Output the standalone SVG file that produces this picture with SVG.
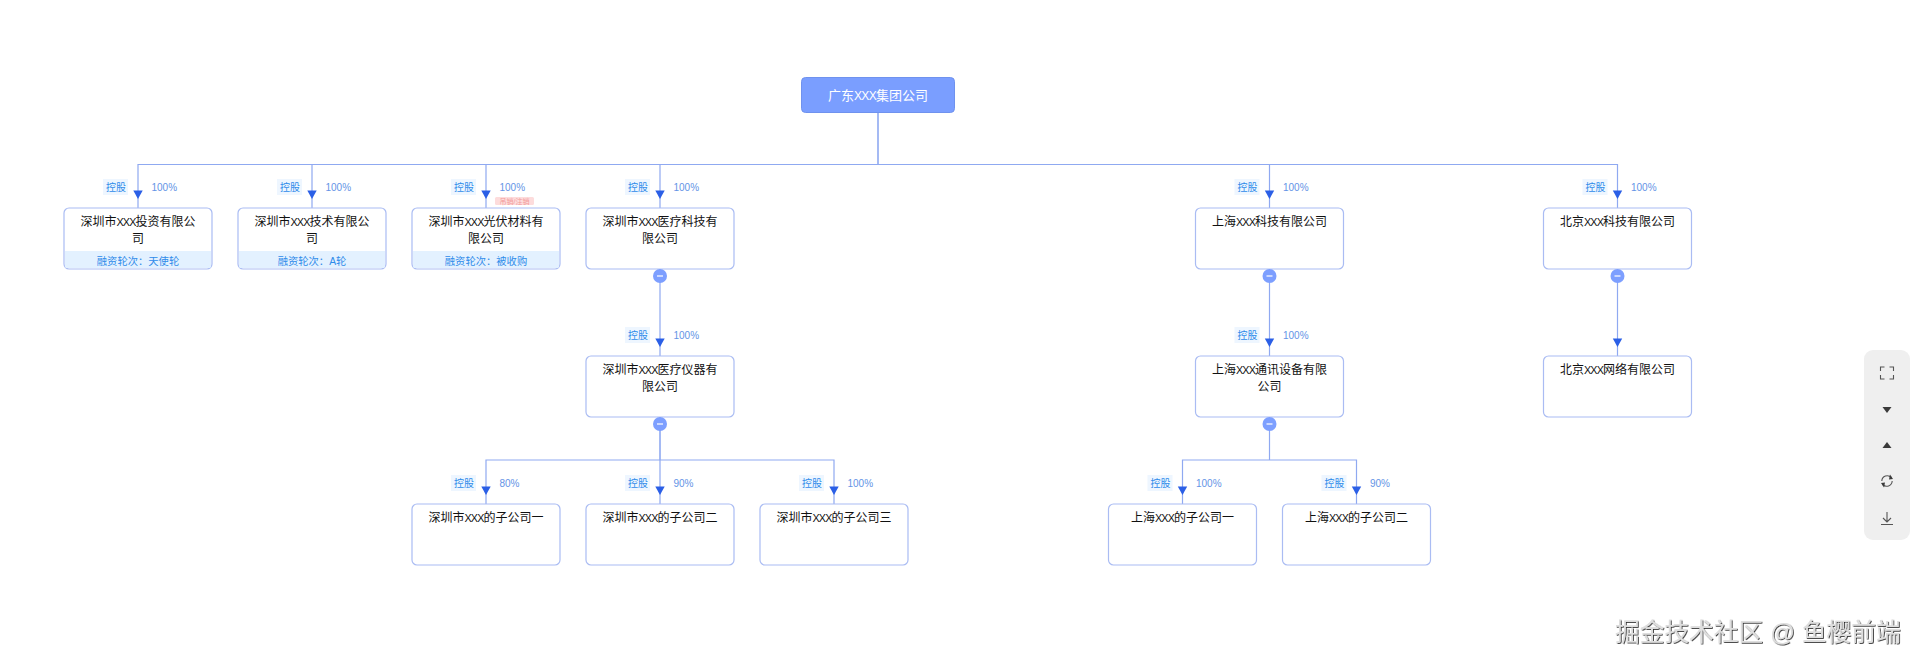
<svg xmlns="http://www.w3.org/2000/svg" width="1920" height="665" viewBox="0 0 1920 665">
<style>
text{font-family:"Liberation Sans","Noto Sans CJK SC",sans-serif}
.box{fill:#fff;stroke:#aabcf3;stroke-width:1.2}
.t{font-size:12px;fill:#111;text-anchor:middle}
.x{font-size:10.800px;letter-spacing:-0.900px}
.root{fill:#7a9eff;stroke:#6f92ee;stroke-width:1}
.rt{font-size:13px;fill:#fff;text-anchor:middle}
.rx{font-size:12px;letter-spacing:-0.700px}
.band{fill:#e3f1ff}
.bt{font-size:10.300px;fill:#2f8bea;text-anchor:middle}
.ln{fill:none;stroke:#8fa9f1;stroke-width:1.2}
.ln2{fill:none;stroke:#8fa9f1;stroke-width:1.6}
.lab{fill:#eef6ff}
.lt{font-size:10px;fill:#2f8bea;text-anchor:middle}
.pt{font-size:10px;fill:#6494e6}
.arr{fill:#2b5fe6}
.dot{fill:#7d9fff}
.minus{stroke:#fff;stroke-width:1.2}
.ic{fill:#3a3a3a}
.ics{fill:none;stroke:#555;stroke-width:1.1}
.wm{font-size:24.700px;fill:#dedede;filter:url(#sh)}
</style>
<defs>
<polygon id="a" class="arr" points="-4.700,-7.500 4.700,-7.500 0,1"/>
<clipPath id="c1"><rect x="64" y="208" width="148" height="61" rx="5"/></clipPath>
<clipPath id="c2"><rect x="238" y="208" width="148" height="61" rx="5"/></clipPath>
<clipPath id="c3"><rect x="412" y="208" width="148" height="61" rx="5"/></clipPath>
<filter id="sh" x="-5%" y="-20%" width="110%" height="140%"><feDropShadow dx="0.8" dy="0.8" stdDeviation="0.5" flood-color="#222"/></filter>
</defs>
<rect width="1920" height="665" fill="#fff"/>
<g id="connectors">
<path class="ln2" d="M878 113V164.500"/>
<path class="ln" d="M138 208V164.500H1617.500V198M312 164.500V208M486 164.500V208M660 164.500V208M1269.500 164.500V208M1617.500 198V208"/>
<path class="ln" d="M660 269V356M1269.500 269V356M1617.500 269V356"/>
<path class="ln2" d="M660 417V460"/>
<path class="ln" d="M486 504V460H834V504M660 460V504"/>
<path class="ln" d="M1269.500 417V460"/>
<path class="ln" d="M1182.500 504V460H1356.500V504"/>
<use href="#a" x="138" y="198"/><use href="#a" x="312" y="198"/><use href="#a" x="486" y="198"/><use href="#a" x="660" y="198"/><use href="#a" x="1269.500" y="198"/><use href="#a" x="1617.500" y="198"/>
<use href="#a" x="660" y="346"/><use href="#a" x="1269.500" y="346"/><use href="#a" x="1617.500" y="346"/>
<use href="#a" x="486" y="494"/><use href="#a" x="660" y="494"/><use href="#a" x="834" y="494"/><use href="#a" x="1182.500" y="494"/><use href="#a" x="1356.500" y="494"/>
<g id="edge-labels">
<rect class="lab" x="103" y="179" width="25" height="16"/><text class="lt" x="116" y="190.500">控股</text><text class="pt" x="151.500" y="190.500">100%</text>
<rect class="lab" x="277" y="179" width="25" height="16"/><text class="lt" x="290" y="190.500">控股</text><text class="pt" x="325.500" y="190.500">100%</text>
<rect class="lab" x="451" y="179" width="25" height="16"/><text class="lt" x="464" y="190.500">控股</text><text class="pt" x="499.500" y="190.500">100%</text>
<rect class="lab" x="625" y="179" width="25" height="16"/><text class="lt" x="638" y="190.500">控股</text><text class="pt" x="673.500" y="190.500">100%</text>
<rect class="lab" x="1234.500" y="179" width="25" height="16"/><text class="lt" x="1247.500" y="190.500">控股</text><text class="pt" x="1283" y="190.500">100%</text>
<rect class="lab" x="1582.500" y="179" width="25" height="16"/><text class="lt" x="1595.500" y="190.500">控股</text><text class="pt" x="1631" y="190.500">100%</text>
<rect class="lab" x="625" y="327" width="25" height="16"/><text class="lt" x="638" y="338.500">控股</text><text class="pt" x="673.500" y="338.500">100%</text>
<rect class="lab" x="1234.500" y="327" width="25" height="16"/><text class="lt" x="1247.500" y="338.500">控股</text><text class="pt" x="1283" y="338.500">100%</text>
<rect class="lab" x="451" y="475" width="25" height="16"/><text class="lt" x="464" y="486.500">控股</text><text class="pt" x="499.500" y="486.500">80%</text>
<rect class="lab" x="625" y="475" width="25" height="16"/><text class="lt" x="638" y="486.500">控股</text><text class="pt" x="673.500" y="486.500">90%</text>
<rect class="lab" x="799" y="475" width="25" height="16"/><text class="lt" x="812" y="486.500">控股</text><text class="pt" x="847.500" y="486.500">100%</text>
<rect class="lab" x="1147.500" y="475" width="25" height="16"/><text class="lt" x="1160.500" y="486.500">控股</text><text class="pt" x="1196" y="486.500">100%</text>
<rect class="lab" x="1321.500" y="475" width="25" height="16"/><text class="lt" x="1334.500" y="486.500">控股</text><text class="pt" x="1370" y="486.500">90%</text>
</g>
</g>
<g id="root"><rect class="root" x="801.500" y="77.500" width="153" height="35" rx="4"/><text class="rt" x="878" y="99.500">广东<tspan class="rx">XXX</tspan>集团公司</text></g>
<g id="n1"><rect class="box" x="64" y="208" width="148" height="61" rx="5"/><rect class="band" x="65" y="251" width="146" height="17" clip-path="url(#c1)"/><text class="t" x="138" y="226">深圳市<tspan class="x">XXX</tspan>投资有限公</text><text class="t" x="138" y="243">司</text><text class="bt" x="138" y="265">融资轮次：天使轮</text></g>
<g id="n2"><rect class="box" x="238" y="208" width="148" height="61" rx="5"/><rect class="band" x="239" y="251" width="146" height="17" clip-path="url(#c2)"/><text class="t" x="312" y="226">深圳市<tspan class="x">XXX</tspan>技术有限公</text><text class="t" x="312" y="243">司</text><text class="bt" x="312" y="265">融资轮次：A轮</text></g>
<g id="n3"><rect class="box" x="412" y="208" width="148" height="61" rx="5"/><rect class="band" x="413" y="251" width="146" height="17" clip-path="url(#c3)"/><text class="t" x="486" y="226">深圳市<tspan class="x">XXX</tspan>光伏材料有</text><text class="t" x="486" y="243">限公司</text><text class="bt" x="486" y="265">融资轮次：被收购</text><rect x="495" y="197" width="39" height="8" rx="1.500" fill="#fddcdc"/><text x="514.500" y="203.500" font-size="7" fill="#f29a9a" text-anchor="middle">吊销/注销</text></g>
<g id="n4"><rect class="box" x="586" y="208" width="148" height="61" rx="5"/><text class="t" x="660" y="226">深圳市<tspan class="x">XXX</tspan>医疗科技有</text><text class="t" x="660" y="243">限公司</text><circle class="dot" cx="660" cy="276" r="7"/><path class="minus" d="M657 276H663"/></g>
<g id="n5"><rect class="box" x="1195.500" y="208" width="148" height="61" rx="5"/><text class="t" x="1269.500" y="226">上海<tspan class="x">XXX</tspan>科技有限公司</text><circle class="dot" cx="1269.500" cy="276" r="7"/><path class="minus" d="M1266.500 276H1272.500"/></g>
<g id="n6"><rect class="box" x="1543.500" y="208" width="148" height="61" rx="5"/><text class="t" x="1617.500" y="226">北京<tspan class="x">XXX</tspan>科技有限公司</text><circle class="dot" cx="1617.500" cy="276" r="7"/><path class="minus" d="M1614.500 276H1620.500"/></g>
<g id="n7"><rect class="box" x="586" y="356" width="148" height="61" rx="5"/><text class="t" x="660" y="374">深圳市<tspan class="x">XXX</tspan>医疗仪器有</text><text class="t" x="660" y="391">限公司</text><circle class="dot" cx="660" cy="424" r="7"/><path class="minus" d="M657 424H663"/></g>
<g id="n8"><rect class="box" x="1195.500" y="356" width="148" height="61" rx="5"/><text class="t" x="1269.500" y="374">上海<tspan class="x">XXX</tspan>通讯设备有限</text><text class="t" x="1269.500" y="391">公司</text><circle class="dot" cx="1269.500" cy="424" r="7"/><path class="minus" d="M1266.500 424H1272.500"/></g>
<g id="n9"><rect class="box" x="1543.500" y="356" width="148" height="61" rx="5"/><text class="t" x="1617.500" y="374">北京<tspan class="x">XXX</tspan>网络有限公司</text></g>
<g id="n10"><rect class="box" x="412" y="504" width="148" height="61" rx="5"/><text class="t" x="486" y="522">深圳市<tspan class="x">XXX</tspan>的子公司一</text></g>
<g id="n11"><rect class="box" x="586" y="504" width="148" height="61" rx="5"/><text class="t" x="660" y="522">深圳市<tspan class="x">XXX</tspan>的子公司二</text></g>
<g id="n12"><rect class="box" x="760" y="504" width="148" height="61" rx="5"/><text class="t" x="834" y="522">深圳市<tspan class="x">XXX</tspan>的子公司三</text></g>
<g id="n13"><rect class="box" x="1108.500" y="504" width="148" height="61" rx="5"/><text class="t" x="1182.500" y="522">上海<tspan class="x">XXX</tspan>的子公司一</text></g>
<g id="n14"><rect class="box" x="1282.500" y="504" width="148" height="61" rx="5"/><text class="t" x="1356.500" y="522">上海<tspan class="x">XXX</tspan>的子公司二</text></g>
<g id="toolbar">
<rect x="1864" y="350" width="46" height="190" rx="9" fill="#efefef"/>
<path class="ics" d="M1880.500 371V367H1884.500M1889.500 367H1893.500V371M1893.500 375V379H1889.500M1884.500 379H1880.500V375"/>
<polygon class="ic" points="1882.500,407 1891.500,407 1887,413"/>
<polygon class="ic" points="1882.500,448 1891.500,448 1887,442"/>
<path class="ics" d="M1881.800 481a5.500 5.500 0 0 1 9.500 -3.500M1892.200 481a5.500 5.500 0 0 1 -9.500 3.500"/>
<polygon class="ic" points="1890,474.500 1893,479 1889,479.500"/>
<polygon class="ic" points="1884,487.500 1881,483 1885,482.500"/>
<path class="ics" d="M1887 512V522M1883 518L1887 522L1891 518M1881 524.500H1893"/>
</g>
<text class="wm" x="1615" y="641">掘金技术社区 @ 鱼樱前端</text>
</svg>
